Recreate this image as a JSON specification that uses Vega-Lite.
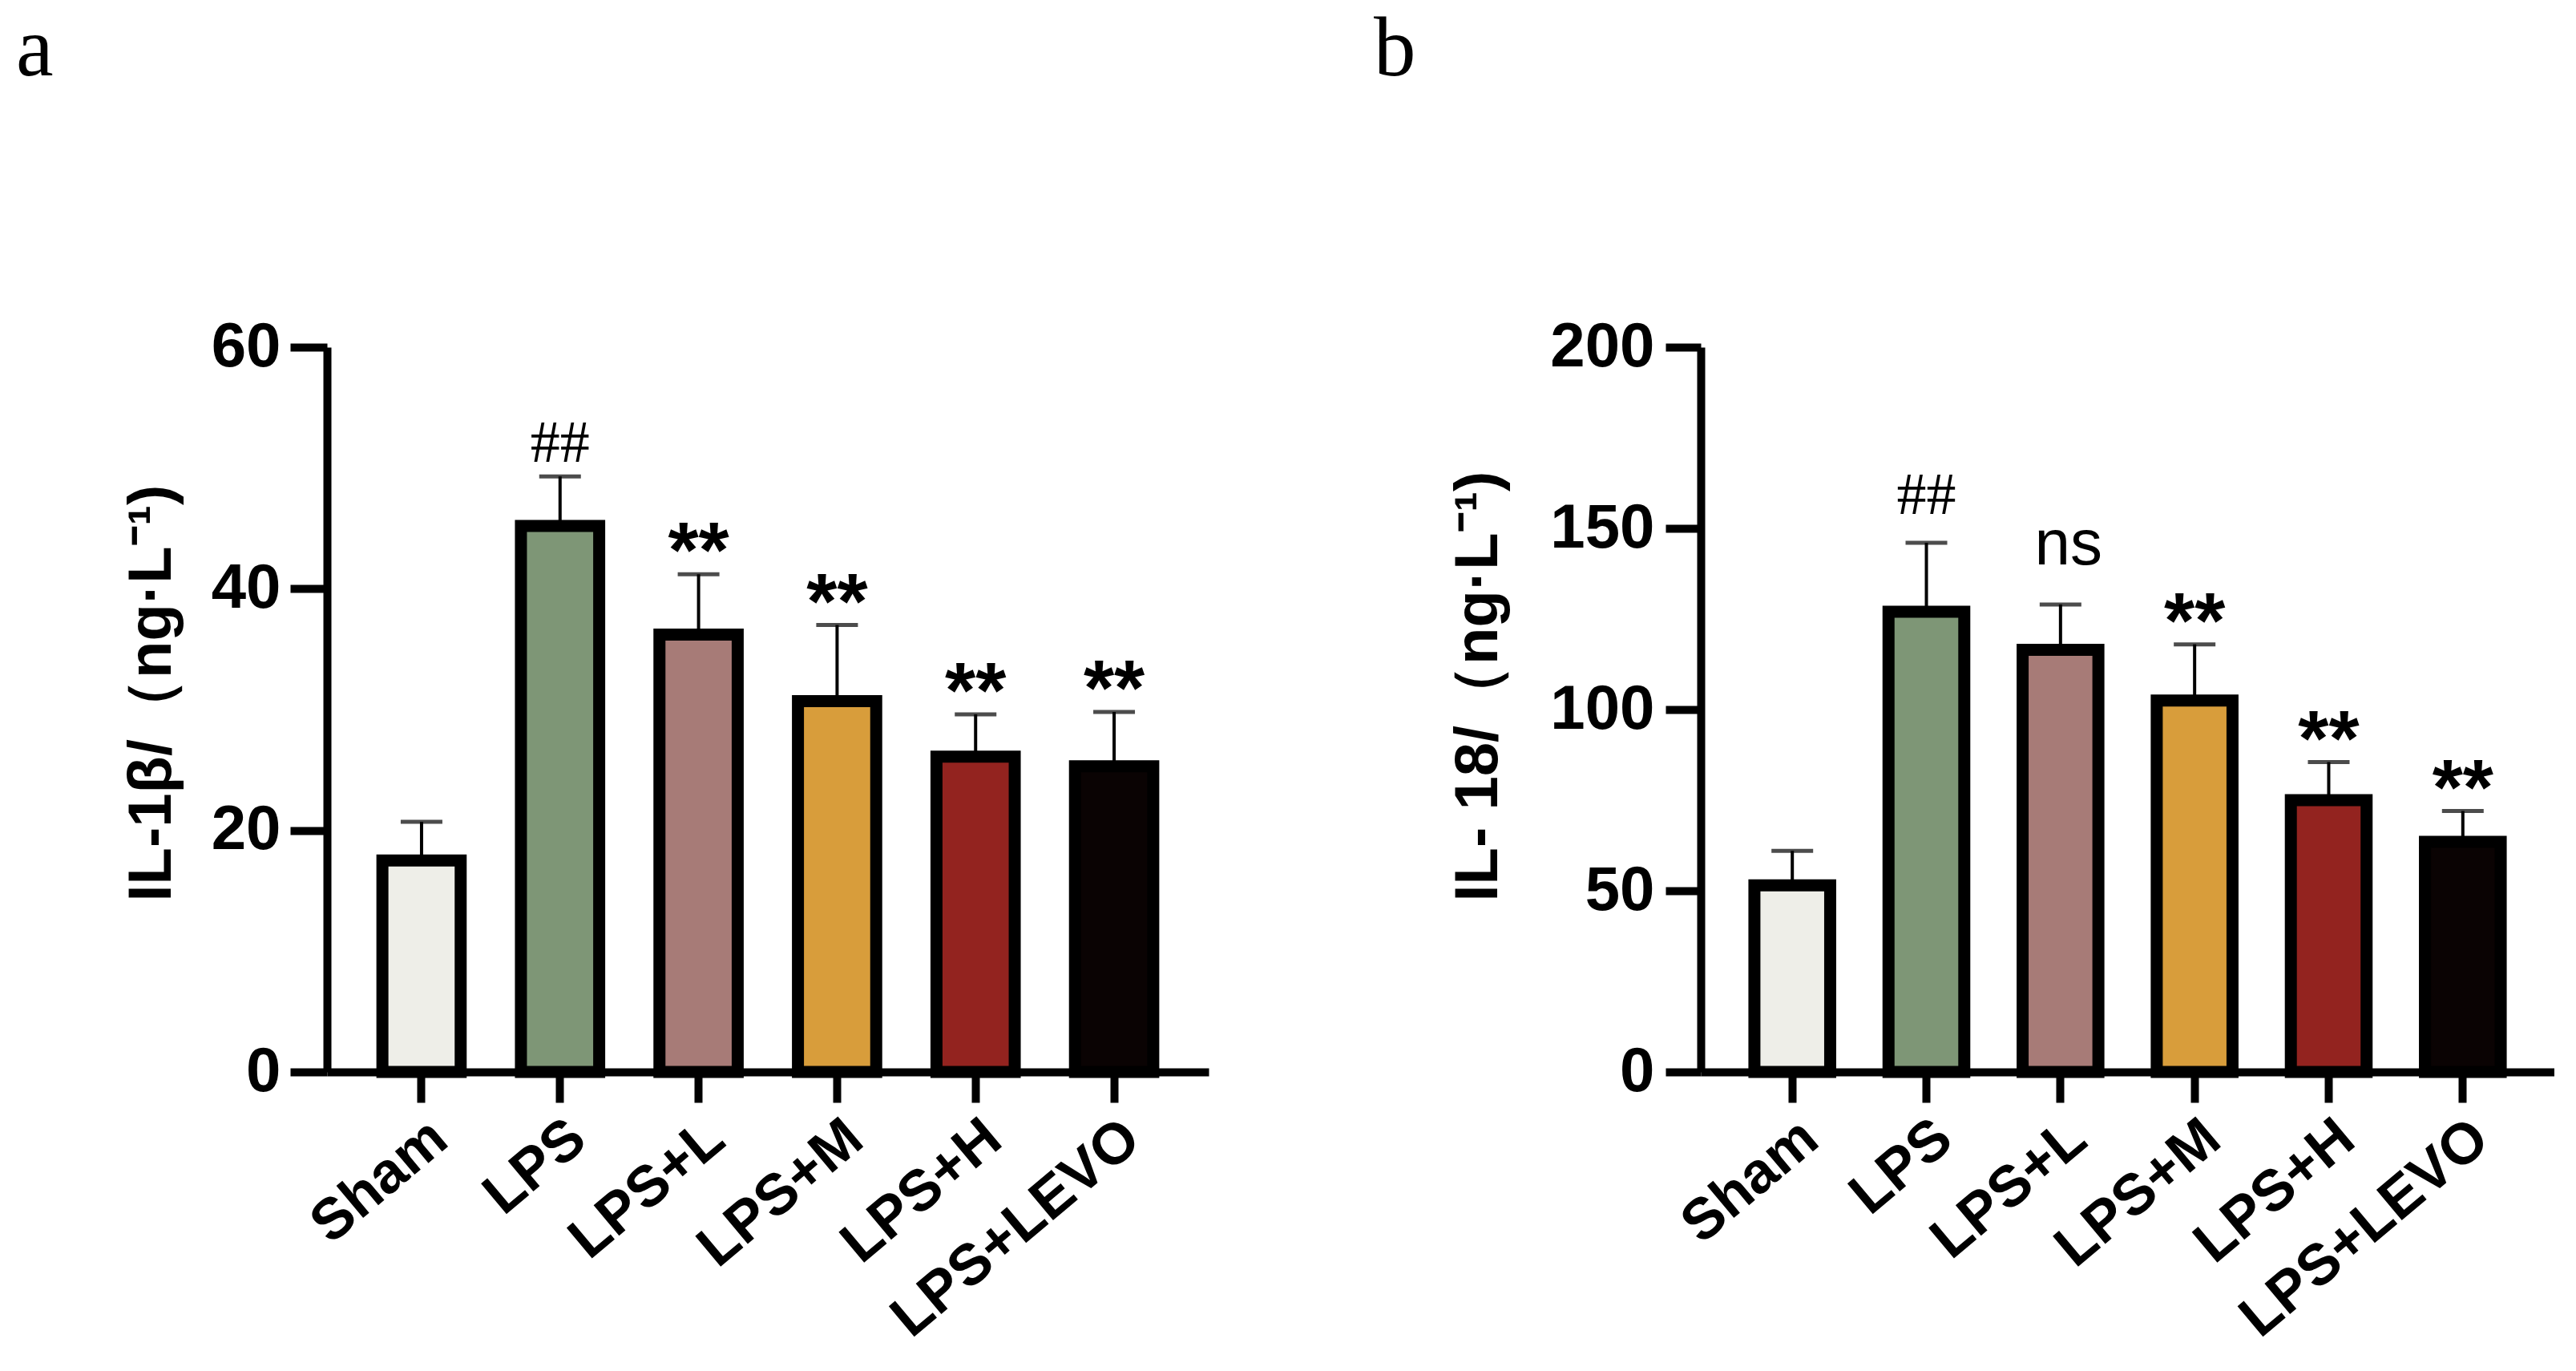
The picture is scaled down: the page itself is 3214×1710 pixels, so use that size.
{
  "$schema": "https://vega.github.io/schema/vega-lite/v6.json",
  "background": "white",
  "padding": {"left": 20, "top": 10, "right": 0, "bottom": 0},
  "spacing": 206,
  "datasets": {
    "il1b": [
      {"group": "Sham", "mean": 17.5, "upper": 20.7, "sig": ""},
      {"group": "LPS", "mean": 45.2, "upper": 49.3, "sig": "##"},
      {"group": "LPS+L", "mean": 36.2, "upper": 41.2, "sig": "**"},
      {"group": "LPS+M", "mean": 30.7, "upper": 37.0, "sig": "**"},
      {"group": "LPS+H", "mean": 26.1, "upper": 29.6, "sig": "**"},
      {"group": "LPS+LEVO", "mean": 25.3, "upper": 29.8, "sig": "**"}
    ],
    "il18": [
      {"group": "Sham", "mean": 51.5, "upper": 61, "sig": ""},
      {"group": "LPS", "mean": 127, "upper": 146, "sig": "##"},
      {"group": "LPS+L", "mean": 116.5, "upper": 129, "sig": "ns"},
      {"group": "LPS+M", "mean": 102.5, "upper": 118, "sig": "**"},
      {"group": "LPS+H", "mean": 75, "upper": 85.5, "sig": "**"},
      {"group": "LPS+LEVO", "mean": 63.5, "upper": 72, "sig": "**"}
    ]
  },
  "config": {
    "view": {"stroke": null},
    "font": "Liberation Sans",
    "axis": {
      "domainColor": "black",
      "domainWidth": 10,
      "tickColor": "black",
      "tickWidth": 10,
      "labelColor": "black",
      "labelFont": "Liberation Sans",
      "labelFontWeight": "bold",
      "labelFontSize": 78,
      "labelLimit": 0,
      "titleColor": "black",
      "titleFont": "Liberation Sans",
      "titleFontWeight": "bold",
      "titleFontSize": 76,
      "grid": false
    },
    "axisX": {"labelFontSize": 72},
    "title": {
      "font": "Liberation Serif",
      "fontSize": 105,
      "fontWeight": "normal",
      "color": "black",
      "anchor": "start",
      "frame": "group",
      "baseline": "alphabetic"
    }
  },
  "hconcat": [
    {
      "title": {"text": "a", "dx": -388, "offset": 278},
      "width": 1100,
      "height": 904,
      "data": {"name": "il1b"},
      "encoding": {
        "x": {
          "field": "group",
          "type": "nominal",
          "sort": ["Sham", "LPS", "LPS+L", "LPS+M", "LPS+H", "LPS+LEVO"],
          "scale": {"paddingInner": 0.435, "paddingOuter": 0.4},
          "axis": {"title": null, "labelAngle": -40, "labelAlign": "right", "labelBaseline": "top", "tickSize": 38, "labelPadding": 8}
        }
      },
      "layer": [
        {
          "mark": {"type": "rule", "color": "black", "strokeWidth": 4},
          "encoding": {
            "y": {"field": "mean", "type": "quantitative", "scale": {"domain": [0, 60], "nice": false},
              "axis": {"title": "IL-1β/（ng·L⁻¹)", "values": [0, 20, 40, 60], "tickSize": 46, "labelPadding": 12,
                "titleAngle": -90, "titleAlign": "left", "titleBaseline": "alphabetic", "titleX": -196, "titleY": 691}},
            "y2": {"field": "upper"}
          }
        },
        {
          "mark": {"type": "tick", "color": "black", "thickness": 5, "size": 52, "orient": "horizontal"},
          "encoding": {"y": {"field": "upper", "type": "quantitative"}}
        },
        {
          "mark": {"type": "bar", "stroke": "black", "strokeWidth": 15},
          "encoding": {
            "y": {"field": "mean", "type": "quantitative"},
            "color": {
              "field": "group",
              "type": "nominal",
              "scale": {
                "domain": ["Sham", "LPS", "LPS+L", "LPS+M", "LPS+H", "LPS+LEVO"],
                "range": ["#EEEEE8", "#7E9676", "#A77B77", "#D89D3B", "#93231F", "#0A0303"]
              },
              "legend": null
            }
          }
        },
        {
          "transform": [{"filter": "datum.sig == '**'"}],
          "mark": {"type": "text", "font": "Liberation Sans", "fontWeight": "bold", "fontSize": 98, "baseline": "alphabetic", "dy": 4, "color": "black"},
          "encoding": {"y": {"field": "upper", "type": "quantitative"}, "text": {"field": "sig"}}
        },
        {
          "transform": [{"filter": "datum.sig == '##'"}],
          "mark": {"type": "text", "font": "Liberation Serif", "fontSize": 74, "baseline": "alphabetic", "dy": -18, "color": "black"},
          "encoding": {"y": {"field": "upper", "type": "quantitative"}, "text": {"field": "sig"}}
        }
      ]
    },
    {
      "title": {"text": "b", "dx": -408, "offset": 278},
      "width": 1065,
      "height": 904,
      "data": {"name": "il18"},
      "encoding": {
        "x": {
          "field": "group",
          "type": "nominal",
          "sort": ["Sham", "LPS", "LPS+L", "LPS+M", "LPS+H", "LPS+LEVO"],
          "scale": {"paddingInner": 0.435, "paddingOuter": 0.4},
          "axis": {"title": null, "labelAngle": -40, "labelAlign": "right", "labelBaseline": "top", "tickSize": 38, "labelPadding": 8}
        }
      },
      "layer": [
        {
          "mark": {"type": "rule", "color": "black", "strokeWidth": 4},
          "encoding": {
            "y": {"field": "mean", "type": "quantitative", "scale": {"domain": [0, 200], "nice": false},
              "axis": {"title": "IL- 18/（ng·L⁻¹)", "values": [0, 50, 100, 150, 200], "tickSize": 44, "labelPadding": 14,
                "titleAngle": -90, "titleAlign": "left", "titleBaseline": "alphabetic", "titleX": -255, "titleY": 691}},
            "y2": {"field": "upper"}
          }
        },
        {
          "mark": {"type": "tick", "color": "black", "thickness": 5, "size": 52, "orient": "horizontal"},
          "encoding": {"y": {"field": "upper", "type": "quantitative"}}
        },
        {
          "mark": {"type": "bar", "stroke": "black", "strokeWidth": 15},
          "encoding": {
            "y": {"field": "mean", "type": "quantitative"},
            "color": {
              "field": "group",
              "type": "nominal",
              "scale": {
                "domain": ["Sham", "LPS", "LPS+L", "LPS+M", "LPS+H", "LPS+LEVO"],
                "range": ["#EEEEE8", "#7E9676", "#A77B77", "#D89D3B", "#93231F", "#0A0303"]
              },
              "legend": null
            }
          }
        },
        {
          "transform": [{"filter": "datum.sig == '**'"}],
          "mark": {"type": "text", "font": "Liberation Sans", "fontWeight": "bold", "fontSize": 98, "baseline": "alphabetic", "dy": 4, "color": "black"},
          "encoding": {"y": {"field": "upper", "type": "quantitative"}, "text": {"field": "sig"}}
        },
        {
          "transform": [{"filter": "datum.sig == '##'"}],
          "mark": {"type": "text", "font": "Liberation Serif", "fontSize": 74, "baseline": "alphabetic", "dy": -36, "color": "black"},
          "encoding": {"y": {"field": "upper", "type": "quantitative"}, "text": {"field": "sig"}}
        },
        {
          "transform": [{"filter": "datum.sig == 'ns'"}],
          "mark": {"type": "text", "font": "Liberation Sans", "fontSize": 80, "baseline": "alphabetic", "dy": -50, "dx": 10, "color": "black"},
          "encoding": {"y": {"field": "upper", "type": "quantitative"}, "text": {"field": "sig"}}
        }
      ]
    }
  ]
}
